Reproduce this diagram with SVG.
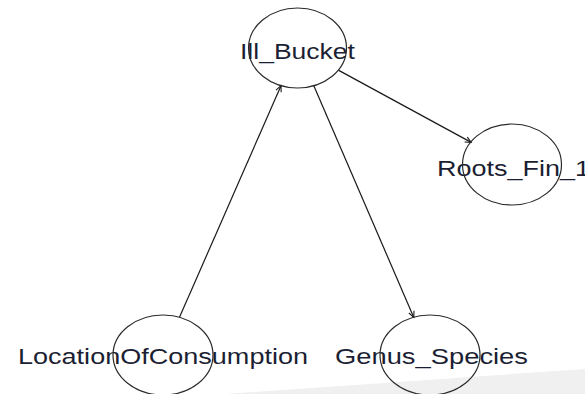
<svg xmlns="http://www.w3.org/2000/svg" width="585" height="394" viewBox="0 0 585 394">
<style>
.node ellipse{fill:none;stroke:#2a2a2a;stroke-width:1.2}
.node text{font-family:"Liberation Sans",Arial,sans-serif;font-size:22px;fill:#1c1f33;text-anchor:middle}
.edges line{stroke:#1a1a1a;stroke-width:1.2}
</style>
<defs>
<marker id="arr" markerUnits="userSpaceOnUse" markerWidth="12" markerHeight="12" viewBox="-8 -6 10 12" refX="0" refY="0" orient="auto">
<path d="M -6 -2.8 L 0 0 L -6 2.8" fill="none" stroke="#1a1a1a" stroke-width="1.1"/>
</marker>
</defs>
<rect width="585" height="394" fill="#ffffff"/>
<polygon points="225,394 585,369 585,394" fill="#f0f0f0"/>
<g class="edges">
<line x1="338.3" y1="70.1" x2="471.2" y2="142.4" marker-end="url(#arr)"/>
<line x1="179.5" y1="317.3" x2="281" y2="85.7" marker-end="url(#arr)"/>
<line x1="313.7" y1="85.6" x2="413.8" y2="317.4" marker-end="url(#arr)"/>
</g>
<g id="Ill_Bucket" class="node">
<text x="297.5" y="59" textLength="115" lengthAdjust="spacingAndGlyphs">Ill_Bucket</text>
<ellipse cx="297.5" cy="48" rx="49" ry="40"/>
</g>
<g id="Roots_Fin_1" class="node">
<text x="513.5" y="176" textLength="153" lengthAdjust="spacingAndGlyphs">Roots_Fin_1</text>
<ellipse cx="512" cy="164.5" rx="49.5" ry="40.5"/>
</g>
<g id="LocationOfConsumption" class="node">
<text x="163" y="364" textLength="290" lengthAdjust="spacingAndGlyphs">LocationOfConsumption</text>
<ellipse cx="163" cy="355" rx="50" ry="40"/>
</g>
<g id="Genus_Species" class="node">
<text x="431.5" y="364" textLength="193" lengthAdjust="spacingAndGlyphs">Genus_Species</text>
<ellipse cx="430" cy="355" rx="50" ry="40"/>
</g>
</svg>
